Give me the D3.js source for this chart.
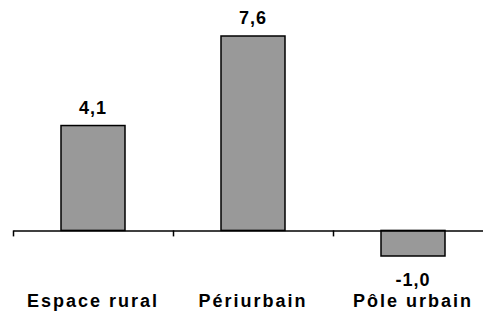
<!DOCTYPE html>
<html>
<head>
<meta charset="utf-8">
<script src="https://cdn.jsdelivr.net/npm/d3@7"></script>
<style>
  body { margin: 0; background: #fff; }
  text { font-family: Arial, "Liberation Sans", sans-serif; font-weight: bold; fill: #000; }
</style>
</head>
<body>
<div id="chart"></div>
<script>
// data
const categories = ["Espace rural", "Périurbain", "Pôle urbain"];
const values = [4.1, 7.6, -1.0];
const valueLabels = ["4,1", "7,6", "-1,0"];

const width = 483;
const height = 311;

const svg = d3.select("#chart")
    .append("svg")
        .attr("width", width)
        .attr("height", height)

// x: one band per category, axis starts at 13px
const x = d3.scaleBand()
    .domain(categories)
    .range([13, 493])
    .paddingInner(0.6)
    .paddingOuter(0.3)

// edges of categories for the tick marks
const xEdges = d3.scaleLinear()
    .domain([0, categories.length])
    .range([13, 493])

const y = d3.scaleLinear()
    .domain([-1.0, 7.6])
    .range([256, 36])

// bars
svg.selectAll("rect.bar")
    .data(values)
    .join("rect")
        .attr("class", "bar")
        .attr("x", (d, i) => x(categories[i]))
        .attr("width", x.bandwidth())
        .attr("y", d => y(Math.max(0, d)))
        .attr("height", d => Math.abs(y(d) - y(0)))
        .style("fill", "#999999")
        .style("stroke", "#000")
        .style("stroke-width", 1.5)

// category axis along zero
const axis = d3.axisBottom(xEdges)
    .tickValues(d3.range(categories.length + 1))
    .tickSize(6)
    .tickSizeOuter(0)
    .tickFormat("")

const gAxis = svg.append("g")
    .attr("transform", `translate(0,${y(0)})`)
    .call(axis)
gAxis.select(".domain").attr("stroke", "#000").attr("stroke-width", 1.5)
gAxis.selectAll(".tick line").attr("stroke", "#000").attr("stroke-width", 1.5)

// value labels
svg.selectAll("text.val")
    .data(values)
    .join("text")
        .attr("class", "val")
        .attr("x", (d, i) => x(categories[i]) + x.bandwidth() / 2)
        .attr("y", d => d >= 0 ? y(d) - 12 : y(d) + 30)
        .attr("text-anchor", "middle")
        .style("font-size", "18px")
        .style("letter-spacing", "1px")
        .text((d, i) => valueLabels[i])

// category labels
svg.selectAll("text.cat")
    .data(categories)
    .join("text")
        .attr("class", "cat")
        .attr("x", d => x(d) + x.bandwidth() / 2)
        .attr("y", 307)
        .attr("text-anchor", "middle")
        .style("font-size", "18px")
        .style("letter-spacing", "2px")
        .text(d => d)
</script>
</body>
</html>
